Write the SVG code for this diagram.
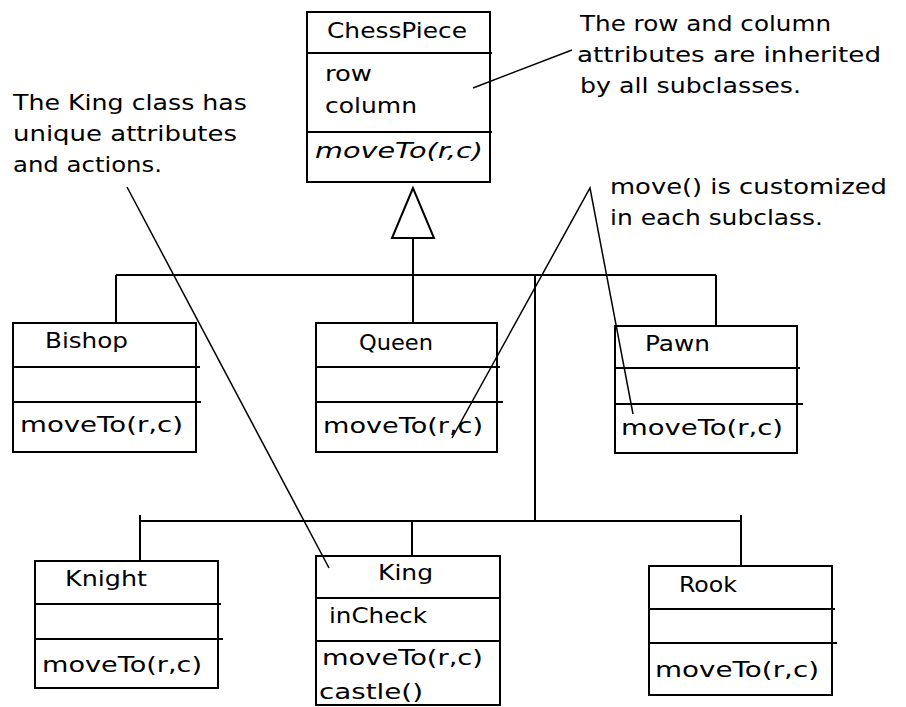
<svg xmlns="http://www.w3.org/2000/svg" width="906" height="707" viewBox="0 0 906 707">
<style>
  .box { fill: #fff; stroke: #000; stroke-width: 2; }
  .div { stroke: #000; stroke-width: 2; fill: none; }
  .conn { stroke: #000; stroke-width: 2; fill: none; }
  .note { stroke: #000; stroke-width: 1.5; fill: none; }
  text { font-family: "DejaVu Sans", "Liberation Sans", sans-serif; font-size: 22px; fill: #000; }
  .it { font-style: italic; }
</style>
<rect x="0" y="0" width="906" height="707" fill="#fff"/>

<g id="connectors">
  <polygon class="conn" points="413,188 392,238 434,238" fill="#fff"/>
  <line class="conn" x1="413" y1="238" x2="413" y2="323"/>
  <line class="conn" x1="116" y1="275" x2="716" y2="275"/>
  <line class="conn" x1="116" y1="275" x2="116" y2="323"/>
  <line class="conn" x1="716" y1="275" x2="716" y2="326"/>
  <line class="conn" x1="535" y1="275" x2="535" y2="521"/>
  <line class="conn" x1="140" y1="521" x2="741" y2="521"/>
  <line class="conn" x1="140" y1="515" x2="140" y2="561"/>
  <line class="conn" x1="412" y1="521" x2="412" y2="556"/>
  <line class="conn" x1="741" y1="515" x2="741" y2="566"/>
</g>

<g id="ChessPiece">
  <rect class="box" x="307" y="12" width="183" height="170"/>
  <line class="div" x1="307" y1="53" x2="492" y2="53"/>
  <line class="div" x1="307" y1="132" x2="492" y2="132"/>
  <text x="327" y="38" textLength="140" lengthAdjust="spacingAndGlyphs">ChessPiece</text>
  <text x="325" y="81" textLength="47" lengthAdjust="spacingAndGlyphs">row</text>
  <text x="325" y="113" textLength="92" lengthAdjust="spacingAndGlyphs">column</text>
  <text class="it" x="315" y="158" textLength="168" lengthAdjust="spacingAndGlyphs">moveTo(r,c)</text>
</g>

<g id="Bishop">
  <rect class="box" x="13" y="323" width="183" height="129"/>
  <line class="div" x1="13" y1="367" x2="200" y2="367"/>
  <line class="div" x1="13" y1="402" x2="201" y2="402"/>
  <text x="45" y="348" textLength="83" lengthAdjust="spacingAndGlyphs">Bishop</text>
  <text x="20" y="432" textLength="163" lengthAdjust="spacingAndGlyphs">moveTo(r,c)</text>
</g>

<g id="Queen">
  <rect class="box" x="316" y="323" width="181" height="129"/>
  <line class="div" x1="316" y1="367" x2="500" y2="367"/>
  <line class="div" x1="316" y1="402" x2="503" y2="402"/>
  <text x="359" y="350" textLength="74" lengthAdjust="spacingAndGlyphs">Queen</text>
  <text x="323" y="433" textLength="160" lengthAdjust="spacingAndGlyphs">moveTo(r,c)</text>
</g>

<g id="Pawn">
  <rect class="box" x="615" y="326" width="182" height="127"/>
  <line class="div" x1="615" y1="368" x2="800" y2="368"/>
  <line class="div" x1="615" y1="404" x2="803" y2="404"/>
  <text x="645" y="351" textLength="65" lengthAdjust="spacingAndGlyphs">Pawn</text>
  <text x="621" y="435" textLength="162" lengthAdjust="spacingAndGlyphs">moveTo(r,c)</text>
</g>

<g id="Knight">
  <rect class="box" x="35" y="561" width="183" height="127"/>
  <line class="div" x1="35" y1="604" x2="221" y2="604"/>
  <line class="div" x1="35" y1="639" x2="223" y2="639"/>
  <text x="65" y="586" textLength="82" lengthAdjust="spacingAndGlyphs">Knight</text>
  <text x="42" y="672" textLength="160" lengthAdjust="spacingAndGlyphs">moveTo(r,c)</text>
</g>

<g id="King">
  <rect class="box" x="316" y="556" width="184" height="149"/>
  <line class="div" x1="316" y1="598" x2="500" y2="598"/>
  <line class="div" x1="316" y1="641" x2="500" y2="641"/>
  <text x="378" y="580" textLength="55" lengthAdjust="spacingAndGlyphs">King</text>
  <text x="329" y="623" textLength="98" lengthAdjust="spacingAndGlyphs">inCheck</text>
  <text x="322" y="665" textLength="161" lengthAdjust="spacingAndGlyphs">moveTo(r,c)</text>
  <text x="319" y="699" textLength="104" lengthAdjust="spacingAndGlyphs">castle()</text>
</g>

<g id="Rook">
  <rect class="box" x="649" y="566" width="183" height="129"/>
  <line class="div" x1="649" y1="609" x2="835" y2="609"/>
  <line class="div" x1="649" y1="643" x2="837" y2="643"/>
  <text x="679" y="592" textLength="58" lengthAdjust="spacingAndGlyphs">Rook</text>
  <text x="655" y="677" textLength="164" lengthAdjust="spacingAndGlyphs">moveTo(r,c)</text>
</g>

<g id="note-inherited">
  <line class="note" x1="473" y1="88" x2="572" y2="50"/>
  <text x="580" y="31" textLength="251" lengthAdjust="spacingAndGlyphs">The row and column</text>
  <text x="577" y="62" textLength="304" lengthAdjust="spacingAndGlyphs">attributes are inherited</text>
  <text x="580" y="93" textLength="221" lengthAdjust="spacingAndGlyphs">by all subclasses.</text>
</g>

<g id="note-move">
  <polyline class="note" points="452,438 590,188 633,414"/>
  <text x="610" y="194" textLength="277" lengthAdjust="spacingAndGlyphs">move() is customized</text>
  <text x="610" y="225" textLength="213" lengthAdjust="spacingAndGlyphs">in each subclass.</text>
</g>

<g id="note-king">
  <line class="note" x1="127" y1="187" x2="329" y2="568"/>
  <text x="13" y="110" textLength="234" lengthAdjust="spacingAndGlyphs">The King class has</text>
  <text x="13" y="141" textLength="224" lengthAdjust="spacingAndGlyphs">unique attributes</text>
  <text x="13" y="172" textLength="149" lengthAdjust="spacingAndGlyphs">and actions.</text>
</g>
</svg>
